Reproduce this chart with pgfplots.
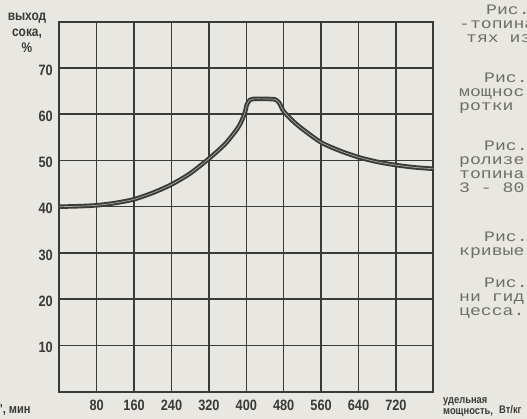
\documentclass[border=0pt]{standalone}
\usepackage{fontspec}
\setmainfont{Liberation Sans}
\newfontfamily\narrow[FakeStretch=0.85]{Liberation Sans}
\newfontfamily\typew[FakeStretch=1.25]{Liberation Mono}
\usepackage{pgfplots}
\pgfplotsset{compat=1.18}

\definecolor{paper}{RGB}{233,231,225}
\definecolor{ink}{RGB}{58,58,56}
\definecolor{typeink}{RGB}{110,110,105}

\begin{document}
\begin{tikzpicture}[x=1pt,y=1pt]
\path[use as bounding box, fill=paper] (0,0) rectangle (527,419);
\begin{axis}[
  at={(59.3pt,27.3pt)}, anchor=south west,
  scale only axis, width=374pt, height=370pt,
  xmin=0, xmax=800, ymin=0, ymax=80,
  xtick={80,160,...,720}, ytick={10,20,...,70},
  grid=major,
  major grid style={ink, line width=1.5pt},
  axis line style={ink, line width=1.7pt},
  major tick length=0pt,
  tick label style={font=\narrow\bfseries\fontsize{15}{15}\selectfont, text=ink},
  yticklabel style={anchor=east, xshift=-3pt, yshift=-2pt},
  xticklabel style={anchor=north, yshift=-5pt},
  /pgf/number format/assume math mode=true,
  clip=false,
]
% выход сока against удельная мощность
\addplot[ink, line width=1.9pt, double={rgb,255:red,168;green,167;blue,162},
  double distance=0.7pt, smooth, tension=0.45] coordinates {
  (0,40.0) (40,40.1) (80,40.3) (120,40.8) (160,41.6) (200,43.0)
  (240,44.8) (280,47.2) (320,50.4) (355,53.6) (383,57.2) (396,60.0)
  (401,62.0) (407,63.0) (416,63.3) (440,63.3) (461,63.2) (470,62.5)
  (480,60.6) (500,58.5) (520,56.8) (560,53.9) (600,52.1) (640,50.7)
  (680,49.7) (720,49.0) (760,48.5) (800,48.2)
};
\end{axis}

% axis captions
\node[align=center, text=ink, inner sep=0pt,
  font=\narrow\bfseries\fontsize{14}{16}\selectfont]
  at (27,386) {выход\\сока,\\\%};
\node[anchor=west, align=left, text=ink, inner sep=0pt,
  font=\narrow\bfseries\fontsize{11}{11}\selectfont]
  at (443,12) {удельная\\мощность,};
\node[anchor=west, text=ink, inner sep=0pt,
  font=\narrow\bfseries\fontsize{11}{11}\selectfont]
  at (499,9) {Вт/кг};
\node[anchor=mid west, text=ink, inner sep=0pt,
  font=\narrow\bfseries\fontsize{13}{13}\selectfont]
  at (0,8) {', мин};

% typewritten page text cut by the right edge, one node per paragraph
\begin{scope}[every node/.style={anchor=north west, align=left, text=typeink,
    inner sep=0pt, font=\typew\fontsize{14.5}{14}\selectfont}]
\node at (459,414) {\hspace*{27pt}Рис.\\-топина\\\hspace*{7pt}тях из};
\node at (459,346) {\hspace*{25pt}Рис.\\мощнос\\ротки};
\node at (459,278) {\hspace*{25pt}Рис.\\ролизе\\топина\\3 - 80};
\node at (459,187) {\hspace*{25pt}Рис.\\кривые};
\node at (459,141) {\hspace*{25pt}Рис.\\ни гид\\цесса.};
\end{scope}
\end{tikzpicture}
\end{document}
